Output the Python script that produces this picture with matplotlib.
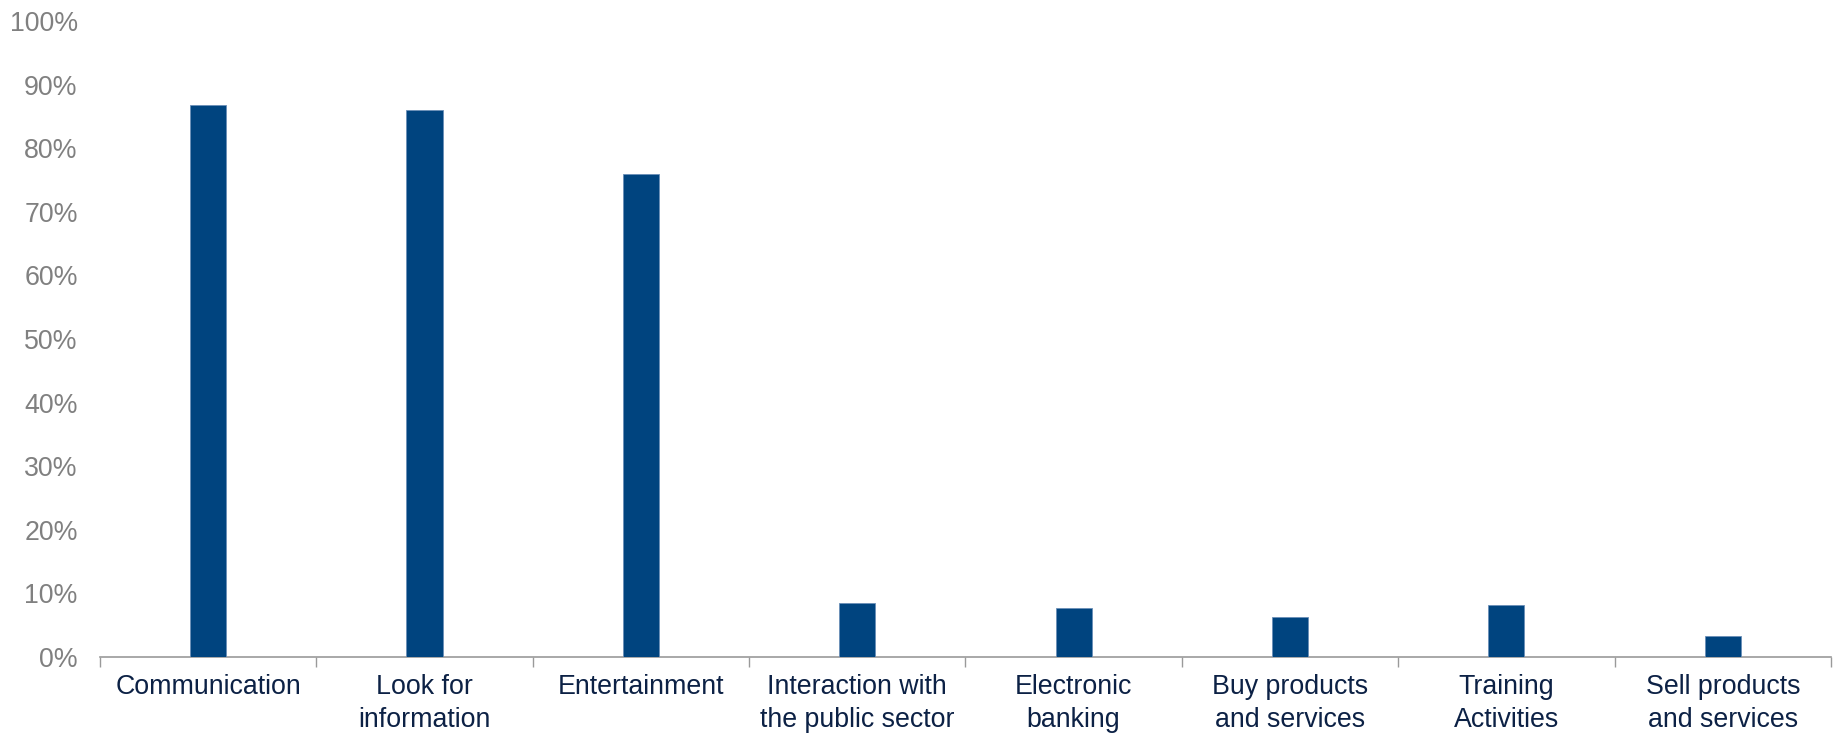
import matplotlib.pyplot as plt
import numpy as np
from matplotlib.ticker import FuncFormatter, FixedLocator

plt.rcParams['font.family'] = ['Liberation Sans', 'DejaVu Sans']

# Internet usage by activity (share of users)
categories = ['Communication', 'Look for\ninformation', 'Entertainment',
              'Interaction with\nthe public sector', 'Electronic\nbanking',
              'Buy products\nand services', 'Training\nActivities',
              'Sell products\nand services']
shares = [0.868, 0.860, 0.760, 0.085, 0.077, 0.063, 0.082, 0.033]
y_ticks = [0.0, 0.1, 0.2, 0.3, 0.4, 0.5, 0.6, 0.7, 0.8, 0.9, 1.0]

fig = plt.figure(figsize=(18.37, 7.35), dpi=100)
ax = fig.add_axes([0.0544, 0.106, 0.9423, 0.8654])

x = np.arange(len(categories))
ax.bar(x, shares, width=0.167, color='#00447f', edgecolor='#6a8fb8',
       linewidth=0.6, zorder=3)

ax.set_xlim(-0.5, len(categories) - 0.5)
ax.set_ylim(0, 1.0)

# y axis: gray percent labels, no spine
ax.yaxis.set_major_locator(FixedLocator(y_ticks))
ax.yaxis.set_major_formatter(FuncFormatter(lambda v, p: f'{v*100:.0f}%'))
ax.tick_params(axis='y', length=0, pad=16, labelsize=19.3, labelcolor='#808080')

# x axis: labels centred, tick marks on the category boundaries
ax.set_xticks(x)
ax.set_xticklabels(categories, linespacing=1.35)
ax.set_xticks(np.arange(len(categories) + 1) - 0.5, minor=True)
ax.tick_params(axis='x', which='major', length=0, pad=12.5, labelsize=19.3,
               labelcolor='#0c2145')
ax.tick_params(axis='x', which='minor', length=7, width=1.0, color='#9a9a9a')

for side in ['top', 'right', 'left']:
    ax.spines[side].set_visible(False)
ax.spines['bottom'].set_color('#9a9a9a')
ax.spines['bottom'].set_linewidth(1.2)

plt.savefig('out.png', dpi=100)
